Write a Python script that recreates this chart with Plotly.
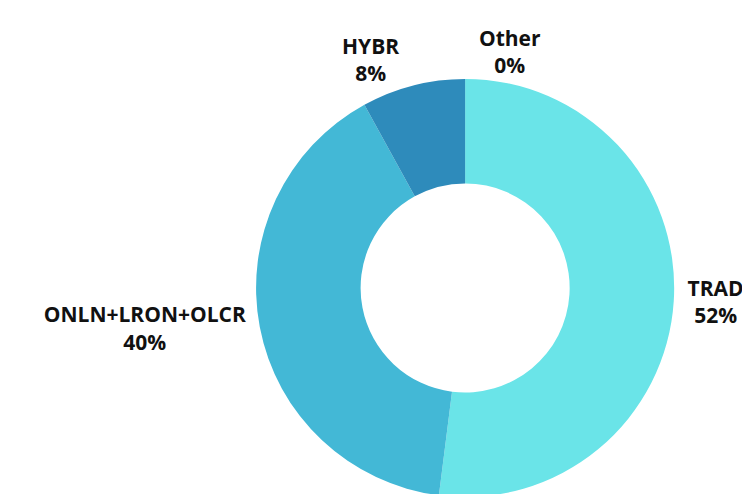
import plotly.graph_objects as go

labels = ["TRAD", "ONLN+LRON+OLCR", "HYBR", "Other"]
values = [52, 40, 8, 0]
colors = ["#6AE4E8", "#43B8D6", "#2E8BBB", "#1F5F8F"]

fig = go.Figure(go.Pie(
    labels=labels,
    values=values,
    hole=0.5,
    sort=False,
    direction="clockwise",
    rotation=0,
    marker=dict(colors=colors, line=dict(width=0)),
    textposition="outside",
    texttemplate="<b>%{label}</b><br><b>%{percent:.0%}</b>",
    textfont=dict(family="Open Sans", size=21, color="#111111"),
    showlegend=False,
    domain=dict(x=[0.328, 0.891], y=[0.0, 0.855]),
))

fig.update_layout(
    width=750, height=494,
    margin=dict(l=0, r=0, t=0, b=0),
    paper_bgcolor="white",
    plot_bgcolor="white",
)

fig.write_html("out.html")
